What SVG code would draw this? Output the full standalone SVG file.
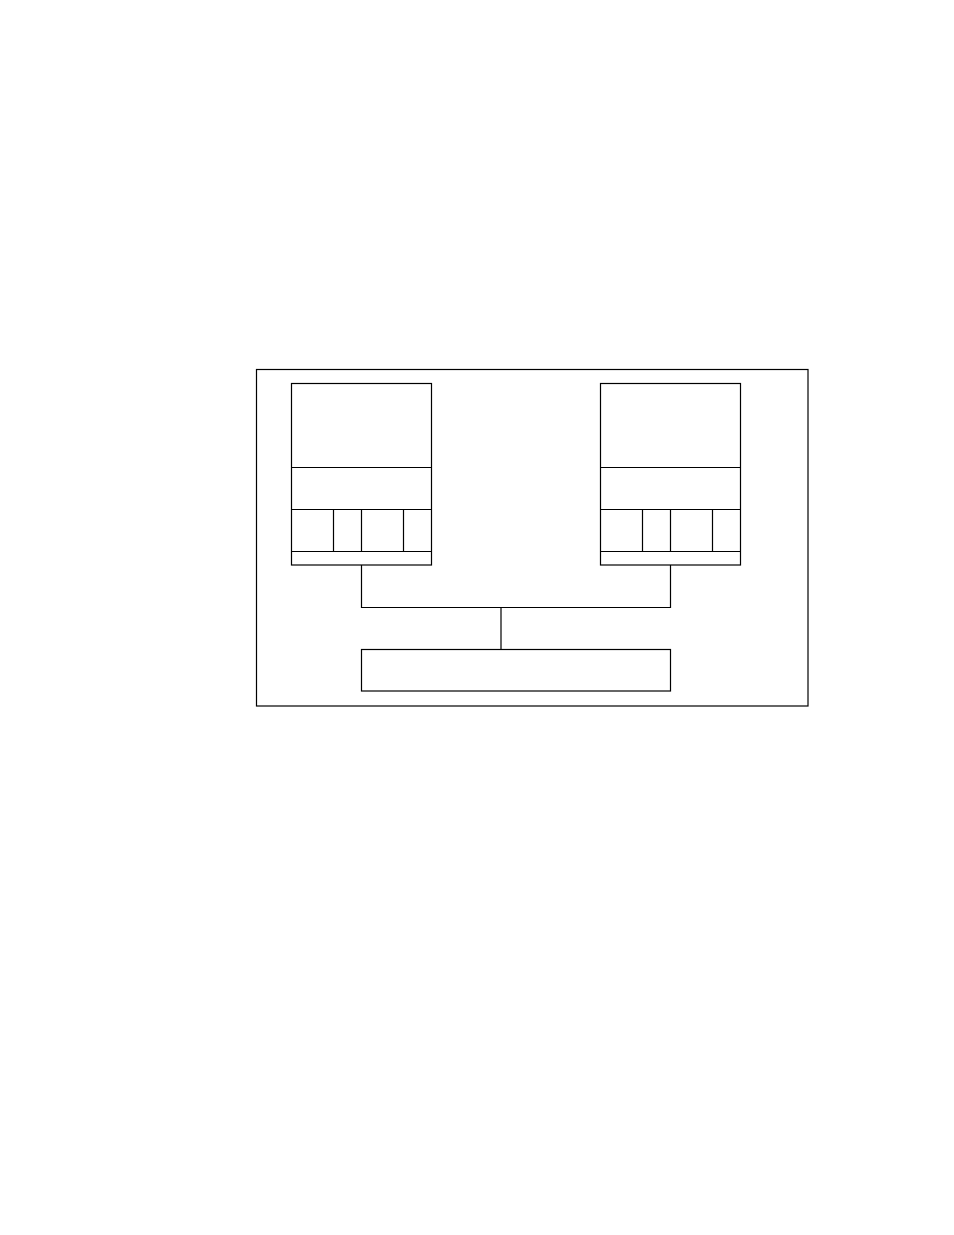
<svg xmlns="http://www.w3.org/2000/svg" width="954" height="1235" viewBox="0 0 954 1235">
<style>
.b{fill:none;stroke:#000;stroke-width:1.2}
</style>
<rect width="954" height="1235" fill="#fff"/>
<g id="frame"><rect class="b" x="256.5" y="369.5" width="551.5" height="336.5"/></g>
<g id="node-left">
<rect class="b" x="291.5" y="383.5" width="140" height="181.5"/>
<path class="b" d="M291.5 467.5H431.5M291.5 509.5H431.5M291.5 551.5H431.5M333.5 509.5V551.5M361.5 509.5V551.5M403.5 509.5V551.5"/>
</g>
<g id="node-right">
<rect class="b" x="600.5" y="383.5" width="140" height="181.5"/>
<path class="b" d="M600.5 467.5H740.5M600.5 509.5H740.5M600.5 551.5H740.5M642.5 509.5V551.5M670.5 509.5V551.5M712.5 509.5V551.5"/>
</g>
<g id="node-bottom"><rect class="b" x="361.5" y="649.5" width="309" height="41.5"/></g>
<g id="connectors">
<path class="b" d="M361.5 565V607.5H670.5V565M501 607.5V649.5"/>
</g>
</svg>
